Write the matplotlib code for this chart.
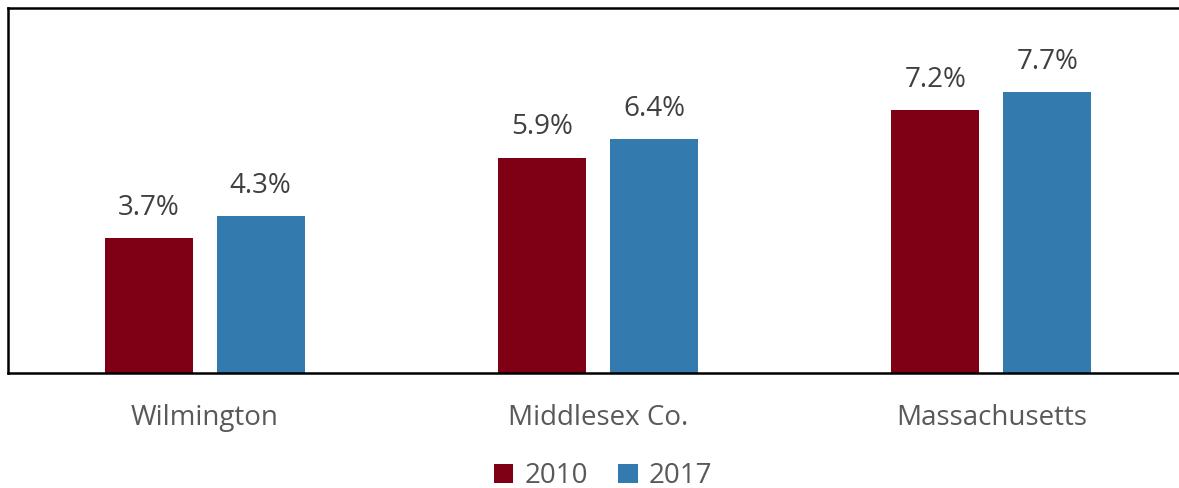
import numpy as np
import matplotlib.pyplot as plt
from matplotlib.patches import Patch

plt.rcParams['font.family'] = ['Open Sans', 'DejaVu Sans']

regions = ['Wilmington', 'Middlesex Co.', 'Massachusetts']
years = ['2010', '2017']
share_2010 = [3.7, 5.9, 7.2]
share_2017 = [4.3, 6.4, 7.7]
colors = ['#7F0015', '#337AAE']

fig = plt.figure(figsize=(11.79, 4.88), dpi=100)
ax = fig.add_axes([8 / 1179, 115 / 488, 1180 / 1179, 365 / 488])

x = np.arange(len(regions))
width = 0.224
offset = 0.1425

for vals, off, col in zip([share_2010, share_2017], [-offset, offset], colors):
    bars = ax.bar(x + off, vals, width, color=col)
    for b, v in zip(bars, vals):
        ax.text(b.get_x() + b.get_width() / 2, v + 0.45, f'{v:.1f}%',
                ha='center', va='bottom', fontsize=20, color='#404040')

ax.set_xlim(-0.5, 2.5)
ax.set_ylim(0, 10)
ax.set_yticks([])
ax.set_xticks(x)
ax.set_xticklabels(regions, fontsize=20, color='#595959')
ax.tick_params(axis='x', length=0, pad=22)

for side in ['left', 'top', 'bottom']:
    ax.spines[side].set_linewidth(1.8)
    ax.spines[side].set_color('black')
ax.spines['right'].set_visible(False)

handles = [Patch(facecolor=c) for c in colors]
fig.legend(handles, years, loc='center', bbox_to_anchor=(603 / 1179, 1 - 476 / 488),
           ncol=2, frameon=False, fontsize=20, labelcolor='#595959',
           handlelength=0.7, handleheight=0.7, handletextpad=0.4, columnspacing=1.1,
           borderpad=0.1)

fig.savefig('out.png', dpi=100)
